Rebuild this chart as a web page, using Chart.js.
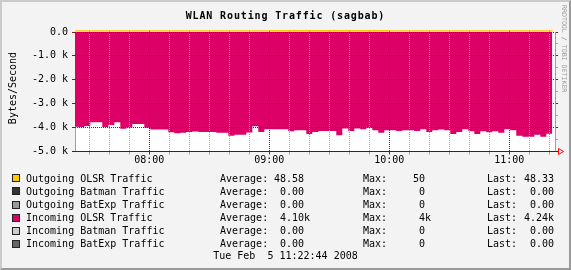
<!DOCTYPE html>
<html>
<head>
<meta charset="utf-8">
<title>WLAN Routing Traffic (sagbab)</title>
<script src="https://cdn.jsdelivr.net/npm/chart.js@4.4.1/dist/chart.umd.min.js"></script>
<style>
  html, body { margin: 0; padding: 0; background: #f3f3f3; }
  #graph { position: relative; width: 571px; height: 270px; background: #f3f3f3; overflow: hidden;
           font-family: "DejaVu Sans Mono", monospace; font-size: 10px; color: #000; }
  #graph canvas { position: absolute; left: 0; top: 0; }
  .txt { position: absolute; white-space: pre; line-height: 12px; }
  #title { left: 0; width: 571px; top: 9.6px; text-align: center; font-weight: bold; letter-spacing: 0.86px; }
  #ytitle { left: -37.5px; top: 82px; width: 100px; text-align: center; transform: rotate(-90deg); }
  #credit { right: 4px; top: 5px; writing-mode: vertical-rl; font-size: 6.6px; line-height: 7px; color: #999; }
  .swatch { position: absolute; left: 12px; width: 8px; height: 8px; box-sizing: border-box; border: 1px solid #222; }
  #bevel { position: absolute; left: 0; top: 0; right: 0; bottom: 0; border: 2px solid;
           border-color: #cbcbcb #999 #999 #cbcbcb; pointer-events: none; }
</style>
</head>
<body>
<div id="graph">
  <canvas id="rrd" width="571" height="270"></canvas>
  <div class="txt" id="title">WLAN Routing Traffic (sagbab)</div>
  <div class="txt" id="ytitle">Bytes/Second</div>
  <div class="txt" id="credit">RRDTOOL / TOBI OETIKER</div>
  <div id="legend"></div>
  <div class="txt" id="stamp" style="left:0;width:571px;text-align:center;top:250.3px">Tue Feb  5 11:22:44 2008</div>
  <div id="bevel"></div>
</div>
<script>
// time axis in minutes relative to 08:00, samples every 3 minutes
const sampleStart = -38.5;
const sampleStep = 3;
const hourLabels = ['08:00', '09:00', '10:00', '11:00'];
const gridMinutes = [-30, -20, -10, 0, 10, 20, 30, 40, 50, 60, 70, 80, 90, 100, 110, 120,
                     130, 140, 150, 160, 170, 180, 190, 200];

// Incoming OLSR traffic, bytes/second (drawn negative)
const inOlsr = [
  3960, 3980, 3930, 3780, 3780, 3970, 3890, 3780, 4050, 4000,
  3850, 3850, 4010, 4080, 4080, 4080, 4190, 4240, 4220, 4180,
  4160, 4180, 4180, 4180, 4220, 4220, 4340, 4300, 4300, 4200,
  3940, 4180, 4070, 4070, 4070, 4070, 4150, 4110, 4110, 4270,
  4180, 4140, 4140, 4140, 4320, 4040, 4140, 4040, 4070, 4010,
  4110, 4220, 4110, 4110, 4140, 4110, 4110, 4140, 4070, 4180,
  4110, 4080, 4110, 4270, 4180, 4070, 4150, 4270, 4150, 4190,
  4150, 4220, 4070, 4110, 4340, 4380, 4380, 4300, 4380, 4260,
  4240
];

// Outgoing OLSR traffic, bytes/second (tiny, shows as a thin line at the top)
const outOlsrTimes = [-38.5, 0, 60, 120, 180, 201.5];
const outOlsr = [48.6, 48.5, 50, 48.7, 48.4, 48.33];

const legendLabels = ['Outgoing OLSR Traffic', 'Outgoing Batman Traffic', 'Outgoing BatExp Traffic',
                      'Incoming OLSR Traffic', 'Incoming Batman Traffic', 'Incoming BatExp Traffic'];
const legendColors = ['#ffc800', '#333333', '#999999', '#dd0066', '#cccccc', '#666666'];
const avgText  = ['48.58', ' 0.00', ' 0.00', ' 4.10k', ' 0.00', ' 0.00'];
const maxText  = ['50', ' 0', ' 0', ' 4k', ' 0', ' 0'];
const lastText = ['48.33', ' 0.00', ' 0.00', '4.24k', ' 0.00', ' 0.00'];

// legend block
const legend = document.getElementById('legend');
legendLabels.forEach((name, i) => {
  const top = 172.7 + i * 13.1;
  const sw = document.createElement('div');
  sw.className = 'swatch';
  sw.style.top = (top + 1.6) + 'px';
  sw.style.background = legendColors[i];
  legend.appendChild(sw);
  [[26, name], [220, 'Average:'], [274, avgText[i]], [363, 'Max:'], [413, maxText[i]],
   [487, 'Last:'], [524, lastText[i]]].forEach(([x, s]) => {
    const d = document.createElement('div');
    d.className = 'txt';
    d.style.left = x + 'px';
    d.style.top = top + 'px';
    d.textContent = s;
    legend.appendChild(d);
  });
});

const MAJOR = '#7a1c1c';
const MINOR = '#a0a0a0';
const FONT = { family: 'DejaVu Sans Mono', size: 10 };

const isMajorX = v => v % 60 === 0;
const isMajorY = v => v % 1000 === 0;
const xColor = ctx => (ctx.tick && isMajorX(ctx.tick.value)) ? MAJOR : MINOR;
const yColor = ctx => (ctx.tick && isMajorY(ctx.tick.value)) ? MAJOR : MINOR;
const setTicks = s => { s.ticks = gridMinutes.map(v => ({ value: v })); };
const col = p => Math.round(p - 0.5);

// white canvas, dotted grid drawn over the data, axis lines and the red arrow, like rrdtool
const rrdAxes = {
  id: 'rrdAxes',
  beforeDraw(chart) {
    const { ctx, chartArea: a } = chart;
    ctx.save();
    ctx.fillStyle = '#ffffff';
    ctx.fillRect(a.left, a.top, a.right - a.left, a.bottom - a.top);
    ctx.fillStyle = '#a0a0a0';
    ctx.fillRect(a.left, a.top, 1, a.bottom - a.top);
    ctx.restore();
  },
  afterDraw(chart) {
    const { ctx, chartArea: a, scales } = chart;
    const top = Math.round(a.top), bottom = Math.round(a.bottom);
    const left = Math.round(a.left), right = Math.round(a.right);
    ctx.save();
    // dotted grid on top of the area, as rrdtool does
    scales.x.ticks.forEach(t => {
      const px = col(scales.x.getPixelForValue(t.value));
      ctx.fillStyle = isMajorX(t.value) ? MAJOR : MINOR;
      for (let y = top; y < bottom; y += 2) ctx.fillRect(px, y, 1, 1);
    });
    scales.y.ticks.forEach(t => {
      const py = col(scales.y.getPixelForValue(t.value));
      ctx.fillStyle = isMajorY(t.value) ? MAJOR : MINOR;
      for (let x = left; x < right; x += 2) ctx.fillRect(x, py, 1, 1);
    });
    // right frame line
    ctx.fillStyle = '#a0a0a0';
    ctx.fillRect(right, top, 1, bottom - top);
    // x axis with the red arrow
    const y = col(scales.y.getPixelForValue(-5000)) + 0.5;
    ctx.strokeStyle = '#5a1616';
    ctx.lineWidth = 1;
    ctx.beginPath();
    ctx.moveTo(a.left - 3, y);
    ctx.lineTo(a.right + 3, y);
    ctx.stroke();
    ctx.strokeStyle = '#ff0000';
    ctx.beginPath();
    ctx.moveTo(a.right + 3, y);
    ctx.lineTo(a.right + 4, y);
    ctx.moveTo(a.right + 3.5, y - 3);
    ctx.lineTo(a.right + 8.5, y);
    ctx.lineTo(a.right + 3.5, y + 3);
    ctx.closePath();
    ctx.stroke();
    ctx.restore();
  }
};

new Chart(document.getElementById('rrd'), {
  type: 'line',
  data: {
    datasets: [
      {
        label: 'Incoming OLSR Traffic',
        data: inOlsr.map((v, i) => ({ x: sampleStart + i * sampleStep, y: -v })),
        stepped: true,
        fill: 'origin',
        backgroundColor: legendColors[3],
        borderWidth: 0,
        pointRadius: 0
      },
      {
        label: 'Outgoing OLSR Traffic',
        data: outOlsrTimes.map((t, i) => ({ x: t, y: outOlsr[i] })),
        stepped: true,
        fill: false,
        borderColor: legendColors[0],
        borderWidth: 1.4,
        pointRadius: 0,
        clip: { left: 0, top: 3, right: 0, bottom: 0 }
      }
    ]
  },
  options: {
    responsive: false,
    animation: false,
    events: [],
    layout: { padding: { left: 0, right: 0, top: 0, bottom: 98.5 } },
    plugins: { legend: { display: false }, tooltip: { enabled: false } },
    scales: {
      x: {
        type: 'linear', position: 'bottom',
        min: -37.15, max: 202.85,
        afterBuildTicks: setTicks,
        afterFit: s => { s.height = 20; },
        grid: { drawOnChartArea: false, color: xColor, tickColor: xColor, tickLength: 3 },
        border: { display: false },
        ticks: {
          autoSkip: false, maxRotation: 0, padding: 0, color: '#000', font: FONT,
          callback: v => isMajorX(v) ? hourLabels[v / 60] : ''
        }
      },
      x2: {
        type: 'linear', position: 'top',
        min: -37.15, max: 202.85,
        afterBuildTicks: setTicks,
        afterFit: s => { s.height = 32; },
        grid: { drawOnChartArea: false, color: xColor, tickColor: xColor, tickLength: 2 },
        border: { display: false },
        ticks: { display: false }
      },
      y: {
        position: 'left',
        min: -5000, max: 0,
        afterFit: s => { s.width = 75; },
        grid: { drawOnChartArea: false, color: yColor, tickColor: yColor, tickLength: 3 },
        border: { display: false },
        ticks: {
          stepSize: 500, padding: 4, color: '#000', font: FONT,
          callback: v => v === 0 ? '0.0' : (isMajorY(v) ? (v / 1000).toFixed(1) + ' k' : '')
        }
      },
      y2: {
        position: 'right',
        min: -5000, max: 0,
        afterFit: s => { s.width = 16; },
        grid: { drawOnChartArea: false, color: yColor, tickColor: yColor, tickLength: 3 },
        border: { display: false },
        ticks: { stepSize: 500, display: false }
      }
    }
  },
  plugins: [rrdAxes]
});
</script>
</body>
</html>
